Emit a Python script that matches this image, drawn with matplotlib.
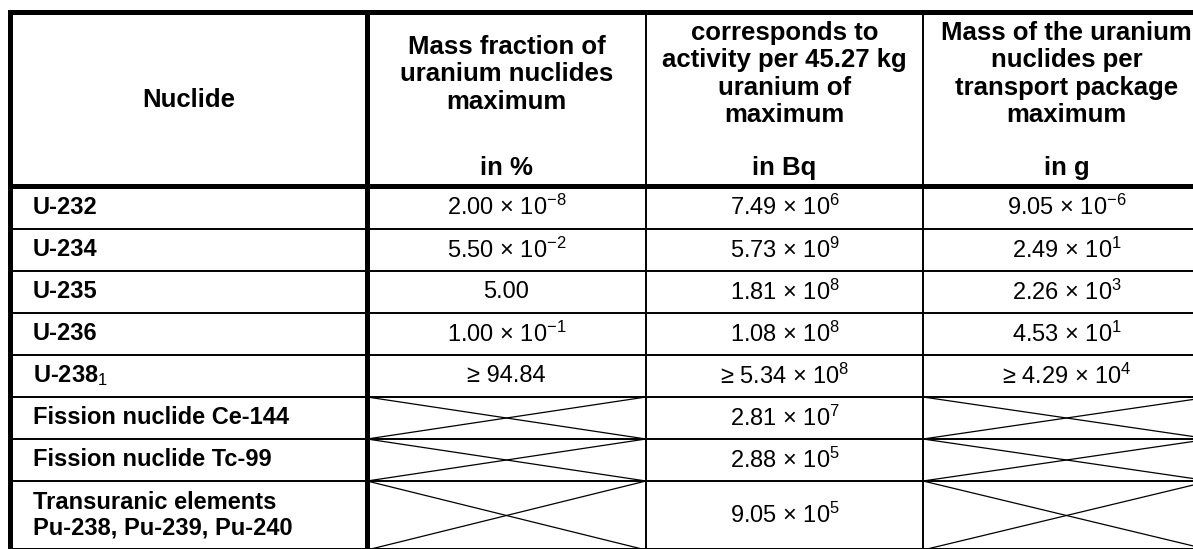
import matplotlib
matplotlib.use("Agg")
from matplotlib import pyplot as plt

plt.rcParams['font.family'] = ['Liberation Sans', 'DejaVu Sans']
plt.rcParams['mathtext.fontset'] = 'custom'
plt.rcParams['mathtext.rm'] = 'Liberation Sans'
plt.rcParams['mathtext.it'] = 'Liberation Sans:italic'
plt.rcParams['mathtext.bf'] = 'Liberation Sans:bold'

# table content
headers = [["Nuclide"],
           ["Mass fraction of", "uranium nuclides", "maximum"],
           ["corresponds to", "activity per 45.27 kg", "uranium of", "maximum"],
           ["Mass of the uranium", "nuclides per", "transport package", "maximum"]]
units = ["", "in %", "in Bq", "in g"]

nuclides = ["U-232", "U-234", "U-235", "U-236", r"U-238$\mathrm{_1}$",
            "Fission nuclide Ce-144", "Fission nuclide Tc-99",
            "Transuranic elements\nPu-238, Pu-239, Pu-240"]
mass_fraction = [r"2.00 × $\mathregular{10^{-8}}$", r"5.50 × $\mathregular{10^{-2}}$", "5.00",
                 r"1.00 × $\mathregular{10^{-1}}$", "≥ 94.84", None, None, None]
activity = [r"7.49 × $\mathregular{10^{6}}$", r"5.73 × $\mathregular{10^{9}}$",
            r"1.81 × $\mathregular{10^{8}}$", r"1.08 × $\mathregular{10^{8}}$",
            r"≥ 5.34 × $\mathregular{10^{8}}$", r"2.81 × $\mathregular{10^{7}}$",
            r"2.88 × $\mathregular{10^{5}}$", r"9.05 × $\mathregular{10^{5}}$"]
mass_package = [r"9.05 × $\mathregular{10^{-6}}$", r"2.49 × $\mathregular{10^{1}}$",
                r"2.26 × $\mathregular{10^{3}}$", r"4.53 × $\mathregular{10^{1}}$",
                r"≥ 4.29 × $\mathregular{10^{4}}$", None, None, None]

# layout (pixels)
col_edges = [10, 367, 646, 923, 1210]
row_edges = [12, 186, 229, 271, 313, 355, 397, 439, 481, 550]
header_top = 33
header_step = 27.5
unit_y = 168
fs_head = 18.5
fs = 17

fig = plt.figure(figsize=(11.93, 5.49), dpi=100)
ax = fig.add_axes([0, 0, 1, 1])
ax.set_xlim(0, 1193)
ax.set_ylim(549, 0)
ax.axis('off')

thick = 3.6
thin = 1.4

# header text
for c, lines in enumerate(headers):
    xc = (col_edges[c] + col_edges[c + 1]) / 2
    if c == 0:
        ax.text(xc, 100, lines[0], ha='center', va='center',
                fontsize=fs_head, fontweight='bold')
        continue
    y0 = header_top + (4 - len(lines)) * header_step / 2
    for k, line in enumerate(lines):
        ax.text(xc, y0 + k * header_step, line, ha='center', va='center',
                fontsize=fs_head, fontweight='bold')
    ax.text(xc, unit_y, units[c], ha='center', va='center', fontsize=fs_head, fontweight='bold')

# body
columns = [mass_fraction, activity, mass_package]
for r in range(len(nuclides)):
    y0, y1 = row_edges[r + 1], row_edges[r + 2]
    yc = (y0 + y1) / 2
    ax.text(33, yc, nuclides[r], ha='left', va='center', fontsize=fs,
            fontweight='bold', linespacing=1.15)
    for c, col in enumerate(columns):
        x0, x1 = col_edges[c + 1], col_edges[c + 2]
        if col[r] is None:
            ax.plot([x0, x1], [y0, y1], color='black', lw=0.9)
            ax.plot([x0, x1], [y1, y0], color='black', lw=0.9)
        else:
            ax.text((x0 + x1) / 2, yc, col[r], ha='center', va='center', fontsize=fs)

# grid lines
for y in row_edges[2:-1]:
    ax.plot([col_edges[0], col_edges[-1]], [y, y], color='black', lw=thin)
for x in col_edges[2:-1]:
    ax.plot([x, x], [row_edges[0], row_edges[-1]], color='black', lw=thin)
ax.plot([col_edges[1], col_edges[1]], [row_edges[0], row_edges[-1]], color='black', lw=thick)
for y in (row_edges[0], row_edges[1], row_edges[-1]):
    ax.plot([col_edges[0] - 2, col_edges[-1]], [y, y], color='black', lw=thick, solid_capstyle='butt')
ax.plot([col_edges[0], col_edges[0]], [row_edges[0], row_edges[-1]], color='black', lw=thick)
ax.plot([col_edges[-1], col_edges[-1]], [row_edges[0], row_edges[-1]], color='black', lw=thick)

fig.savefig("out.png", dpi=100)
